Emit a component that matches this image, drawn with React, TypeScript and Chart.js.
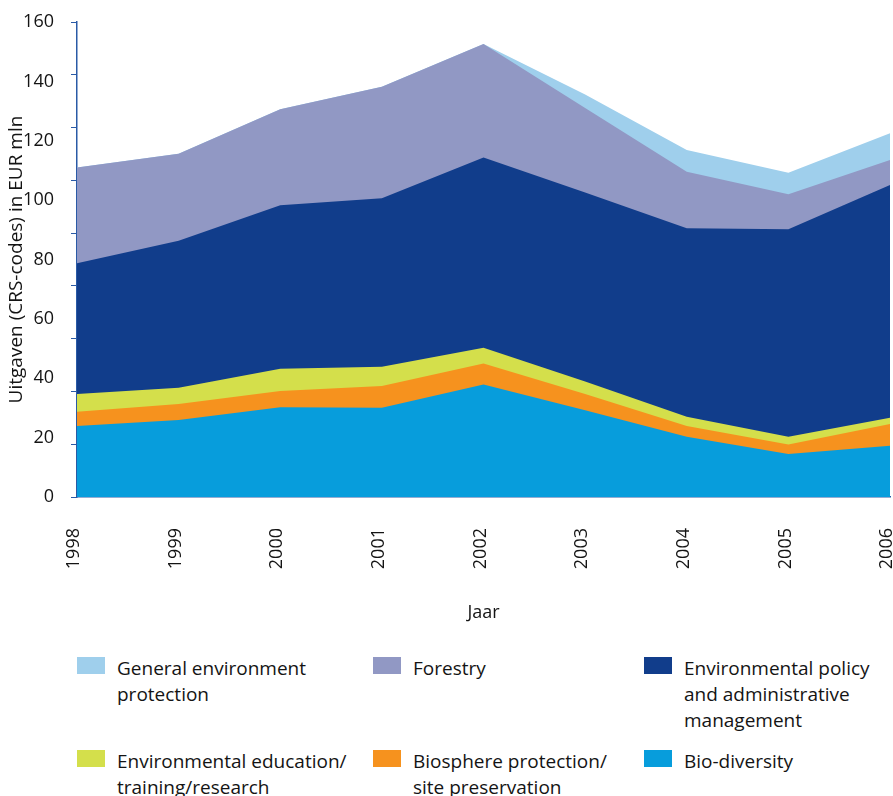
import React, { useEffect, useRef } from 'react';
import { Chart, registerables } from 'chart.js';

Chart.register(...registerables);

// ---- data (EUR mln per category, stacked) ----
const years = ['1998', '1999', '2000', '2001', '2002', '2003', '2004', '2005', '2006'];
const bioDiversity = [23.9, 25.9, 30.2, 30.1, 37.9, 29.2, 20.3, 14.5, 17.3];
const biosphereProtection = [4.8, 5.4, 5.5, 7.3, 7.1, 5.5, 3.6, 3.2, 7.3];
const environmentalEducation = [6.0, 5.5, 7.5, 6.5, 5.3, 4.2, 3.1, 2.6, 2.1];
const environmentalPolicy = [44.0, 49.5, 55.1, 56.7, 64.1, 63.7, 63.5, 69.9, 78.4];
const forestry = [32.3, 29.3, 32.3, 37.6, 38.2, 28.4, 19.1, 11.8, 8.4];
const generalEnvironment = [0, 0, 0, 0, 0, 4.6, 7.3, 7.2, 9.0];

const seriesNames = [
  'Bio-diversity',
  'Biosphere protection/site preservation',
  'Environmental education/training/research',
  'Environmental policy and administrative management',
  'Forestry',
  'General environment protection',
];
const seriesColors = ['#079ddc', '#f6921e', '#d4df4b', '#113d8b', '#9198c4', '#9fcfec'];

const yAxisTitle = 'Uitgaven (CRS-codes) in EUR mln';
const xAxisTitle = 'Jaar';
const yMin = 0;
const yMax = 160;
const yStep = 20;

// legend: order in reading order, each with its wrapped lines
const legendOrder = [5, 4, 3, 2, 1, 0];
const legendLines = [
  ['Bio-diversity'],
  ['Biosphere protection/', 'site preservation'],
  ['Environmental education/', 'training/research'],
  ['Environmental policy', 'and administrative', 'management'],
  ['Forestry'],
  ['General environment', 'protection'],
];

const FONT = "'Open Sans', 'DejaVu Sans', sans-serif";
const AXIS_COLOR = '#2a5aa6';
const TEXT_COLOR = '#141414';

export default function App() {
  const canvasRef = useRef<HTMLCanvasElement | null>(null);

  useEffect(() => {
    if (!canvasRef.current) return;
    const values = [
      bioDiversity,
      biosphereProtection,
      environmentalEducation,
      environmentalPolicy,
      forestry,
      generalEnvironment,
    ];
    const chart = new Chart(canvasRef.current, {
      type: 'line',
      data: {
        labels: years,
        datasets: values.map((v, i) => ({
          label: seriesNames[i],
          data: v,
          backgroundColor: seriesColors[i],
          borderColor: seriesColors[i],
          borderWidth: 0,
          pointRadius: 0,
          pointHoverRadius: 0,
          tension: 0,
          fill: 'origin',
        })),
      },
      options: {
        responsive: true,
        maintainAspectRatio: false,
        animation: false,
        layout: { padding: { top: 22, right: 3, left: 0, bottom: 0 } },
        plugins: {
          legend: { display: false },
          tooltip: { enabled: false },
        },
        scales: {
          x: {
            type: 'category',
            offset: false,
            grid: { display: false },
            border: { display: true, color: AXIS_COLOR, width: 1.5 },
            ticks: {
              autoSkip: false,
              minRotation: 90,
              maxRotation: 90,
              padding: 23,
              labelOffset: -3,
              color: TEXT_COLOR,
              font: { family: FONT, size: 18 },
            },
            title: {
              display: true,
              text: xAxisTitle,
              color: TEXT_COLOR,
              font: { family: FONT, size: 18 },
              padding: { top: 0, bottom: 4 },
            },
            afterFit: (scale: any) => {
              scale.height = 131;
              scale.paddingLeft = 0;
              scale.paddingRight = 0;
            },
          },
          y: {
            type: 'linear',
            position: 'left',
            stacked: true,
            weight: 1,
            min: yMin,
            max: yMax,
            grid: { display: false },
            border: { display: false },
            ticks: {
              stepSize: yStep,
              padding: 9,
              color: TEXT_COLOR,
              font: { family: FONT, size: 18 },
            },
            title: {
              display: true,
              text: yAxisTitle,
              color: TEXT_COLOR,
              font: { family: FONT, size: 19 },
              padding: { top: 5, bottom: 0 },
            },
            afterFit: (scale: any) => {
              scale.width = 71;
            },
          },
          yTicks: {
            type: 'linear',
            position: 'left',
            weight: 0,
            min: yMin,
            max: yMax,
            ticks: { display: false, count: 10 },
            grid: {
              display: true,
              drawOnChartArea: false,
              drawTicks: true,
              tickLength: 6,
              color: AXIS_COLOR,
              lineWidth: 1,
            },
            border: { display: true, color: AXIS_COLOR, width: 1.5 },
            afterFit: (scale: any) => {
              scale.width = 6;
            },
          },
        },
      },
    });
    return () => chart.destroy();
  }, []);

  const colLeft = [77, 373, 644];
  const rowTop = [657, 750];

  return (
    <div
      style={{
        position: 'absolute',
        left: 0,
        top: 0,
        width: 893,
        height: 796,
        background: '#ffffff',
        overflow: 'hidden',
        fontFamily: FONT,
      }}
    >
      <div style={{ position: 'absolute', left: 0, top: 0, width: 893, height: 628 }}>
        <canvas ref={canvasRef} />
      </div>
      {legendOrder.map((si, k) => {
        const col = k % 3;
        const row = Math.floor(k / 3);
        return (
          <div key={si}>
            <div
              style={{
                position: 'absolute',
                left: colLeft[col],
                top: rowTop[row],
                width: 28,
                height: 17,
                background: seriesColors[si],
              }}
            />
            <div
              style={{
                position: 'absolute',
                left: colLeft[col] + 40,
                top: rowTop[row] - 2,
                fontSize: 19,
                lineHeight: '26px',
                color: TEXT_COLOR,
                whiteSpace: 'nowrap',
              }}
            >
              {legendLines[si].map((l, j) => (
                <div key={j}>{l}</div>
              ))}
            </div>
          </div>
        );
      })}
    </div>
  );
}
